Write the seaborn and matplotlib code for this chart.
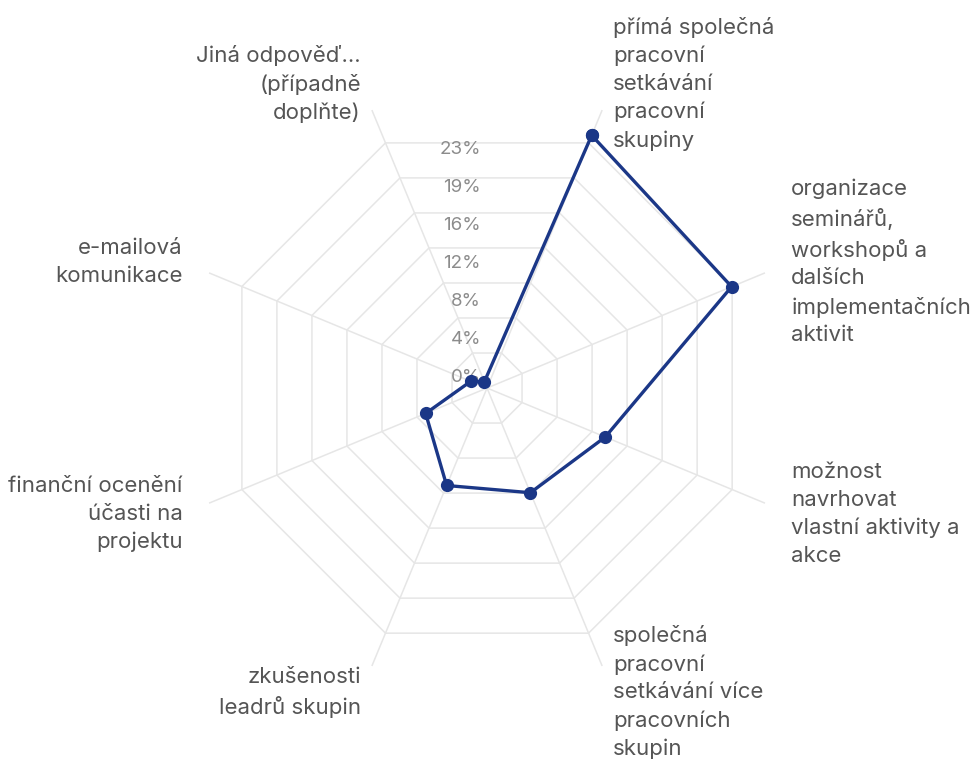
import matplotlib
matplotlib.use('Agg')
import matplotlib.pyplot as plt
import matplotlib.transforms as mtransforms
import numpy as np
import pandas as pd
import seaborn as sns

categories = [
    'přímá společná\npracovní\nsetkávání\npracovní\nskupiny',
    'organizace\nseminářů,\nworkshopů a\ndalších\nimplementačních\naktivit',
    'možnost\nnavrhovat\nvlastní aktivity a\nakce',
    'společná\npracovní\nsetkávání více\npracovních\nskupin',
    'zkušenosti\nleadrů skupin',
    'finanční ocenění\núčasti na\nprojektu',
    'e-mailová\nkomunikace',
    'Jiná odpověď...\n(případně\ndoplňte)',
]
shares = [28.0, 27.1, 13.1, 11.6, 10.8, 6.8, 1.8, 0.7]
ring_values = [3.88, 7.76, 11.64, 15.52, 19.40, 23.28, 27.16]
tick_values = [0, 3.88, 7.76, 11.64, 15.52, 19.40, 23.28]
tick_labels = ['0%', '4%', '8%', '12%', '16%', '19%', '23%']

sns.set_theme(style='white')
plt.rcParams['font.family'] = ['Inter', 'DejaVu Sans']

grid_color = '#e6e6e6'
line_color = '#1b3787'
r_max = 30.8
r_label = 33.7

n = len(categories)
angles = (np.arange(n) + 0.5) * 2 * np.pi / n
closed = np.append(angles, angles[0])

fig = plt.figure(figsize=(9.76, 7.63), dpi=100)
ax = fig.add_axes([0.1907, 0.0971, 0.6166, 0.7887], projection='polar')
ax.set_theta_zero_location('N')
ax.set_theta_direction(-1)

# octagon web
for rv in ring_values:
    ax.plot(closed, [rv] * len(closed), color=grid_color, lw=1.1, zorder=1)
for a in angles:
    ax.plot([a, a], [0, r_max], color=grid_color, lw=1.1, zorder=1)

df = pd.DataFrame({'angle': closed, 'share': shares + shares[:1]})
sns.lineplot(data=df, x='angle', y='share', sort=False, estimator=None,
             color=line_color, lw=2.4, marker='o', markersize=9.5,
             markeredgewidth=0, ax=ax, zorder=3)

ax.set_ylim(0, r_max)
ax.grid(False)
ax.spines['polar'].set_visible(False)
ax.set_xticks([])
ax.set_yticks([])
ax.set_xlabel('')
ax.set_ylabel('')

trans = mtransforms.offset_copy(ax.transData, fig=fig, x=-6, y=11, units='dots')
for v, lab in zip(tick_values, tick_labels):
    ax.text(0, v, lab, transform=trans, ha='right', va='center',
            color='#8c8c8c', fontsize=13.5, zorder=2)

for a, lab in zip(angles, categories):
    ha = 'left' if np.sin(a) > 0 else 'right'
    ax.text(a, r_label, lab, ha=ha, va='center', fontsize=16,
            color='#555555', linespacing=1.48, clip_on=False)

fig.savefig('out.png', dpi=100)
